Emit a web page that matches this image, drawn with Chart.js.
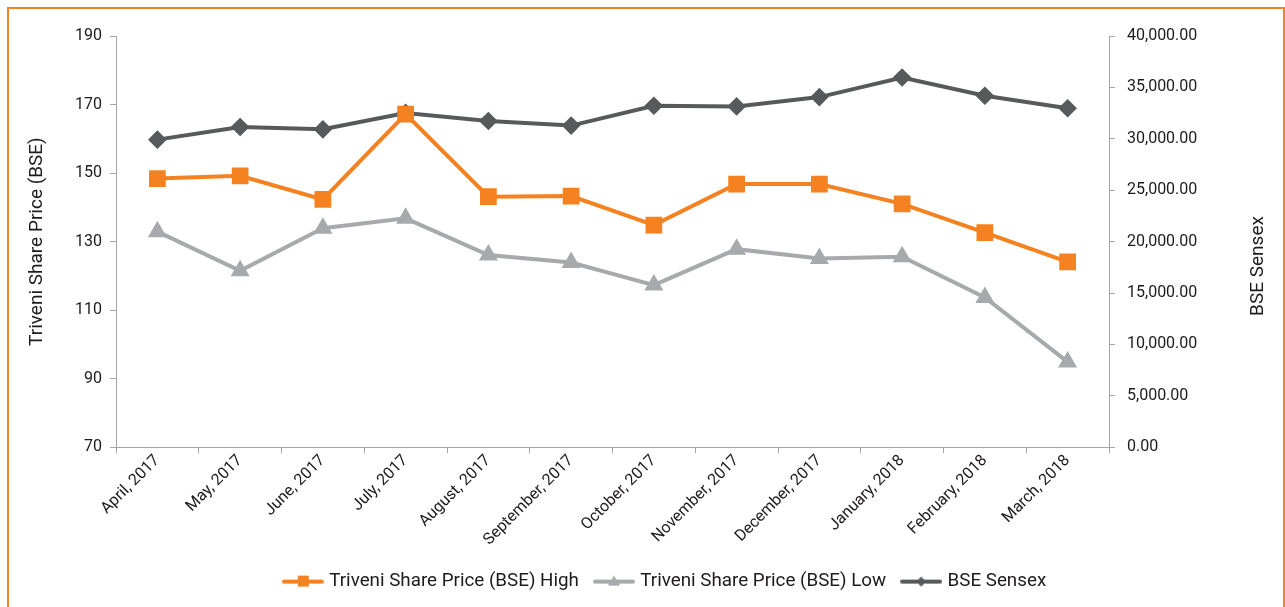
<!DOCTYPE html>
<html>
<head>
<meta charset="utf-8">
<script src="https://cdn.jsdelivr.net/npm/chart.js@4/dist/chart.umd.min.js"></script>
<style>
  html, body { margin: 0; padding: 0; background: #fff; }
  #wrap { position: relative; width: 1285px; height: 607px; overflow: hidden; }
  #frame { position: absolute; left: 7px; top: 7px; width: 1274px; height: 620px;
           border: 2px solid #F58220; pointer-events: none; }
  canvas { position: absolute; left: 0; top: 0; }
</style>
</head>
<body>
<div id="wrap">
  <canvas id="chart" width="1285" height="607"></canvas>
  <div id="frame"></div>
</div>
<script>
// Данные
const months = ['April, 2017', 'May, 2017', 'June, 2017', 'July, 2017', 'August, 2017',
  'September, 2017', 'October, 2017', 'November, 2017', 'December, 2017',
  'January, 2018', 'February, 2018', 'March, 2018'];
const priceHigh = [148.4, 149.2, 142.3, 167.2, 143.1, 143.3, 134.8, 146.8, 146.8, 141.0, 132.6, 124.1];
const priceLow  = [132.9, 121.5, 133.9, 136.8, 126.1, 123.9, 117.3, 127.8, 125.1, 125.6, 113.7, 94.9];
const sensex    = [29918, 31146, 30922, 32515, 31730, 31284, 33213, 33149, 34057, 35965, 34184, 32969];

const ORANGE = '#F58220';
const LIGHT  = '#A7A9AC';
const DARK   = '#58595B';
const AXIS   = '#A3A5A8';
const TEXT   = '#1E1B1C';
const FONT   = 'Roboto';

// Значок для легенды: линия с маркером посередине
function legendIcon(color, style) {
  const c = document.createElement('canvas');
  c.width = 42; c.height = 14;
  const ctx = c.getContext('2d');
  ctx.strokeStyle = color;
  ctx.lineWidth = 4;
  ctx.lineCap = 'round';
  ctx.beginPath(); ctx.moveTo(2, 7); ctx.lineTo(40, 7); ctx.stroke();
  ctx.fillStyle = color;
  ctx.beginPath();
  if (style === 'rect') ctx.rect(16, 1, 11, 11);
  else if (style === 'triangle') { ctx.moveTo(21, 1); ctx.lineTo(27, 11); ctx.lineTo(15, 11); ctx.closePath(); }
  else { ctx.moveTo(21, 2); ctx.lineTo(26, 7); ctx.lineTo(21, 12); ctx.lineTo(16, 7); ctx.closePath(); }
  ctx.fill();
  return c;
}

const icons = [legendIcon(ORANGE, 'rect'), legendIcon(LIGHT, 'triangle'), legendIcon(DARK, 'rectRot')];

// Сдвиг легенды, как на исходнике
const legendShift = {
  id: 'legendShift',
  afterLayout(chart) {
    chart.legend.left += 17;
    chart.legend.right += 17;
    chart.legend.top += 2;
    chart.legend.bottom += 2;
  }
};

// Заголовок правой оси читается снизу вверх, как и левый
const rightTitle = {
  id: 'rightTitle',
  afterDraw(chart) {
    const ctx = chart.ctx;
    ctx.save();
    ctx.translate(1258, 266);
    ctx.rotate(-Math.PI / 2);
    ctx.fillStyle = TEXT;
    ctx.font = '19px ' + FONT;
    ctx.textAlign = 'center';
    ctx.textBaseline = 'middle';
    ctx.fillText('BSE Sensex', 0, 0);
    ctx.restore();
  }
};

function numFmt(v) {
  return v.toLocaleString('en-US', { minimumFractionDigits: 2, maximumFractionDigits: 2 });
}

new Chart(document.getElementById('chart'), {
  type: 'line',
  data: {
    labels: months,
    datasets: [
      { label: 'Triveni Share Price (BSE) High', data: priceHigh, yAxisID: 'y',
        borderColor: ORANGE, backgroundColor: ORANGE, borderWidth: 4,
        pointStyle: 'rect', pointRadius: 9, pointHoverRadius: 9, tension: 0 },
      { label: 'Triveni Share Price (BSE) Low', data: priceLow, yAxisID: 'y',
        borderColor: LIGHT, backgroundColor: LIGHT, borderWidth: 4,
        pointStyle: 'triangle', pointRadius: 7, pointHoverRadius: 7, tension: 0 },
      { label: 'BSE Sensex', data: sensex, yAxisID: 'y1',
        borderColor: DARK, backgroundColor: DARK, borderWidth: 4,
        pointStyle: 'rectRot', pointRadius: 6.5, pointHoverRadius: 6.5, tension: 0 },
    ]
  },
  options: {
    responsive: false,
    animation: false,
    layout: { padding: { top: 36, left: 23, right: 10, bottom: 8 } },
    plugins: {
      tooltip: { enabled: false },
      legend: {
        position: 'bottom',
        labels: {
          usePointStyle: true,
          pointStyleWidth: 34,
          padding: 18,
          color: TEXT,
          font: { family: FONT, size: 18.8 },
          generateLabels(chart) {
            return chart.data.datasets.map((ds, i) => ({
              text: ds.label, pointStyle: icons[i], datasetIndex: i,
              fillStyle: ds.borderColor, strokeStyle: ds.borderColor, lineWidth: 0,
              fontColor: TEXT, hidden: false,
            }));
          }
        }
      }
    },
    scales: {
      x: {
        offset: true,
        grid: { display: true, offset: true, drawOnChartArea: false, drawTicks: true, tickLength: 6, color: AXIS },
        border: { display: true, color: AXIS, width: 1 },
        ticks: { maxRotation: 45, minRotation: 45, autoSkip: false, color: TEXT, padding: -2,
                 font: { family: FONT, size: 16 } },
        afterFit(scale) { scale.height = 105; }
      },
      y: {
        position: 'left',
        min: 70, max: 190,
        ticks: { stepSize: 20, color: TEXT, padding: 8, font: { family: FONT, size: 16 } },
        grid: { drawOnChartArea: false, drawTicks: true, tickLength: 6, color: AXIS },
        border: { display: true, color: AXIS, width: 1 },
        title: { display: true, text: 'Triveni Share Price (BSE)', color: TEXT,
                 font: { family: FONT, size: 19 }, padding: 3 },
        afterFit(scale) { scale.width = 93; }
      },
      y1: {
        position: 'right',
        min: 0, max: 40000,
        ticks: { stepSize: 5000, color: TEXT, padding: 12, font: { family: FONT, size: 16 },
                 callback: v => numFmt(v) },
        grid: { drawOnChartArea: false, drawTicks: true, tickLength: 6, color: AXIS },
        border: { display: true, color: AXIS, width: 1 },
        afterFit(scale) { scale.width = 166; }
      }
    }
  },
  plugins: [legendShift, rightTitle]
});
</script>
</body>
</html>
